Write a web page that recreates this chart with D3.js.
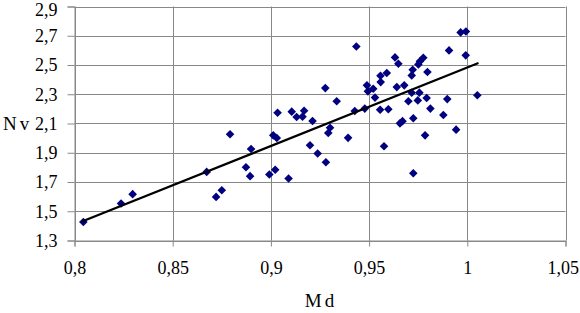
<!DOCTYPE html>
<html lang="en">
<head>
  <meta charset="UTF-8">
  <title>Nv vs Md</title>
  <style>
    * { padding: 0; margin: 0; }
    body { background: #fff; }
    svg text { font-family: "Liberation Serif", "Times New Roman", serif; fill: #000; }
  </style>
</head>
<body>
  <svg id="svg"></svg>
  <script src="https://cdnjs.cloudflare.com/ajax/libs/d3/7.8.5/d3.min.js"></script>
  <script>
    // x tick values / labels (comma decimals as in the original)
    const xTicks = [0.8, 0.85, 0.9, 0.95, 1, 1.05]
    const xTickLabels = ['0,8', '0,85', '0,9', '0,95', '1', '1,05']
    const yTicks = [1.3, 1.5, 1.7, 1.9, 2.1, 2.3, 2.5, 2.7, 2.9]
    const yTickLabels = ['1,3', '1,5', '1,7', '1,9', '2,1', '2,3', '2,5', '2,7', '2,9']

    // scatter points
    const md = [
      0.8045, 0.8237, 0.8296, 0.8673, 0.8721, 0.8750, 0.8792, 0.8873, 0.8894, 0.8899,
      0.8992, 0.9012, 0.9030, 0.9022, 0.9034, 0.9090, 0.9106, 0.9131, 0.9161, 0.9169,
      0.9212, 0.9199, 0.9238, 0.9280, 0.9277, 0.9335, 0.9292, 0.9301, 0.9393, 0.9427,
      0.9478, 0.9435, 0.9489, 0.9494, 0.9521, 0.9530, 0.9558, 0.9559, 0.9556, 0.9590,
      0.9598, 0.9576, 0.9632, 0.9649, 0.9641, 0.9679, 0.9657, 0.9670, 0.9700, 0.9717,
      0.9722, 0.9717, 0.9725, 0.9725, 0.9751, 0.9759, 0.9776, 0.9797, 0.9756, 0.9748,
      0.9793, 0.9785, 0.9812, 0.9878, 0.9898, 0.9907, 0.9943, 0.9966, 0.9993, 0.9992,
      1.0051
    ]
    const nv = [
      1.426, 1.553, 1.617, 1.769, 1.598, 1.644, 2.026, 1.801, 1.740, 1.926,
      1.751, 2.019, 2.001, 1.784, 2.174, 1.724, 2.181, 2.144, 2.147, 2.187,
      2.117, 1.951, 1.895, 1.835, 2.342, 2.252, 2.035, 2.071, 2.002, 2.185,
      2.202, 2.627, 2.361, 2.320, 2.338, 2.277, 2.427, 2.383, 2.194, 2.445,
      2.197, 1.944, 2.552, 2.509, 2.349, 2.361, 2.101, 2.116, 2.252, 2.429,
      2.468, 2.310, 2.136, 1.760, 2.504, 2.525, 2.550, 2.452, 2.311, 2.258,
      2.274, 2.019, 2.202, 2.158, 2.267, 2.600, 2.058, 2.723, 2.729, 2.566,
      2.293
    ]

    // trend line end points
    const trendMd = [0.8035, 1.0057]
    const trendNv = [1.428, 2.513]

    const width = 580, height = 313
    const plot = { left: 74.5, right: 565.5, top: 6.5, bottom: 240.5 }

    const svg = d3.select('#svg')
      .attr('width', width)
      .attr('height', height)

    const x = d3.scaleLinear().domain([0.8, 1.05]).range([plot.left, plot.right])
    const y = d3.scaleLinear().domain([1.3, 2.9]).range([plot.bottom, plot.top])

    // grid
    const grid = svg.append('g').attr('stroke', '#888').attr('stroke-width', 1)
    grid.selectAll('.hy').data(yTicks).join('line')
      .attr('x1', plot.left).attr('x2', plot.right)
      .attr('y1', d => Math.round(y(d)) + 0.5).attr('y2', d => Math.round(y(d)) + 0.5)
    grid.selectAll('.vx').data(xTicks).join('line')
      .attr('y1', plot.top).attr('y2', plot.bottom)
      .attr('x1', d => Math.round(x(d)) + 0.5).attr('x2', d => Math.round(x(d)) + 0.5)

    // axes
    const yAxis = d3.axisLeft(y).tickValues(yTicks).tickSize(7).tickPadding(10)
      .tickFormat((d, i) => yTickLabels[i])
    const xAxis = d3.axisBottom(x).tickValues(xTicks).tickSize(6).tickPadding(15)
      .tickFormat((d, i) => xTickLabels[i])

    const gy = svg.append('g').attr('transform', `translate(${plot.left},0)`).call(yAxis)
    const gx = svg.append('g').attr('transform', `translate(0,${plot.bottom})`).call(xAxis)
    ;[gx, gy].forEach(g => {
      g.selectAll('.domain').attr('stroke', '#888')
      g.selectAll('.tick line').attr('stroke', '#888')
      g.selectAll('text').style('font-size', '18px')
    })
    // keep edge labels inside the page
    gy.selectAll('.tick text').filter(d => d === 2.9).attr('dy', '0.5em')
    gx.selectAll('.tick text').filter(d => d === 1.05)
      .attr('text-anchor', 'end').attr('x', 13)

    // points
    const diamond = 'M0,-4.3L4.3,0L0,4.3L-4.3,0Z'
    svg.append('g').selectAll('path')
      .data(md.map((d, i) => [d, nv[i]]))
      .join('path')
      .attr('d', diamond)
      .attr('fill', '#000080')
      .attr('transform', d => `translate(${x(d[0])},${y(d[1])})`)

    // trend line
    svg.append('path')
      .datum(trendMd.map((d, i) => [d, trendNv[i]]))
      .attr('fill', 'none')
      .attr('stroke', '#000')
      .attr('stroke-width', 2.2)
      .attr('d', d3.line().x(d => x(d[0])).y(d => y(d[1])))

    // axis titles
    svg.append('text')
      .attr('x', 321).attr('y', 307)
      .attr('text-anchor', 'middle')
      .style('font-size', '19px')
      .style('letter-spacing', '3px')
      .text('Md')
    svg.append('text')
      .attr('x', 3).attr('y', 129.5)
      .style('font-size', '19px')
      .style('letter-spacing', '3px')
      .text('Nv')
  </script>
</body>
</html>
